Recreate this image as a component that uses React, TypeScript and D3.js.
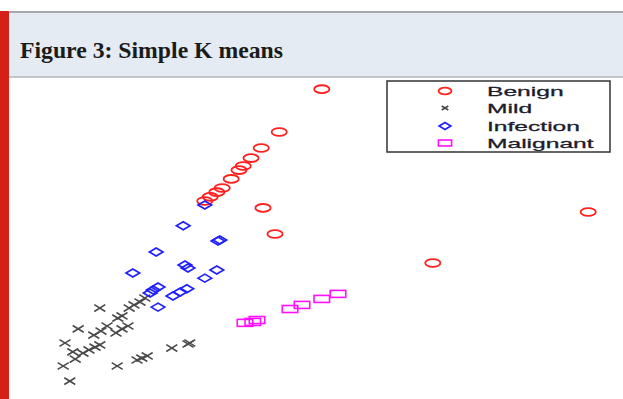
import React from "react";
import * as d3 from "d3";

// Cluster assignments from a simple k-means run (feature 1 vs feature 2)
const benign: [number, number][] = [
  [50.3, 97.1], [43.2, 83.5], [40.2, 78.4], [38.5, 75.2], [37.2, 72.7],
  [36.5, 71.4], [35.2, 68.6], [33.7, 65.7], [32.8, 64.4], [31.7, 62.9],
  [30.8, 61.6], [40.5, 59.4], [42.5, 51.1], [94.7, 58.1], [68.8, 41.9],
];

const mild: [number, number][] = [
  [13.3, 27.6], [20.8, 30.8], [20.0, 29.5], [19.0, 28.6], [18.2, 27.6],
  [17.0, 25.1], [16.3, 24.4], [9.7, 21.0], [14.5, 21.9], [13.5, 20.3],
  [12.3, 19.0], [18.0, 21.9], [17.0, 21.0], [16.0, 19.7], [7.5, 16.5],
  [13.3, 15.9], [12.5, 15.2], [11.5, 14.3], [10.5, 13.3], [8.8, 13.7],
  [9.2, 11.4], [7.2, 9.2], [16.2, 9.2], [19.5, 11.1], [20.3, 11.7],
  [21.2, 12.4], [25.3, 14.9], [28.3, 16.5], [28.0, 16.2], [8.3, 4.4],
];

const infection: [number, number][] = [
  [30.8, 60.3], [27.2, 53.7], [33.3, 49.2], [33.0, 48.9], [22.7, 45.4],
  [18.8, 38.7], [27.5, 41.3], [28.0, 40.3], [32.8, 39.7], [30.8, 37.1],
  [23.0, 34.3], [22.2, 33.3], [21.7, 32.4], [27.8, 33.7], [26.7, 32.7],
  [25.5, 31.4], [23.0, 27.9],
];

const malignant: [number, number][] = [
  [37.5, 22.9], [38.8, 23.2], [39.5, 23.8], [45.0, 27.3], [47.0, 28.6],
  [50.3, 30.5], [53.0, 32.1],
];

const legendLabels = ["Benign", "Mild", "Infection", "Malignant"];
const titleText = "Figure 3: Simple K means";

const W = 623;
const H = 399;

const x = d3.scaleLinear().domain([0, 100]).range([20, 620]);
const y = d3.scaleLinear().domain([0, 100]).range([395, 80]);

const RED = "#ff2020";
const BLUE = "#2020ff";
const GREY = "#4a4a4a";
const MAGENTA = "#ff10ff";

type Kind = "circle" | "cross" | "diamond" | "square";

function Marker({ kind, cx, cy, s = 1 }: { kind: Kind; cx: number; cy: number; s?: number }) {
  if (kind === "circle") {
    return <ellipse cx={cx} cy={cy} rx={7.6 * s} ry={3.9 * s} fill="none" stroke={RED} strokeWidth={1.8} />;
  }
  if (kind === "cross") {
    const hw = 5.5 * s, hh = 3.4 * s;
    return (
      <path
        d={`M${cx - hw},${cy - hh}L${cx + hw},${cy + hh}M${cx - hw},${cy + hh}L${cx + hw},${cy - hh}`}
        stroke={GREY}
        strokeWidth={1.6}
        fill="none"
      />
    );
  }
  if (kind === "diamond") {
    const hw = 6.8 * s, hh = 4 * s;
    return (
      <path
        d={`M${cx - hw},${cy}L${cx},${cy - hh}L${cx + hw},${cy}L${cx},${cy + hh}Z`}
        stroke={BLUE}
        strokeWidth={1.7}
        fill="none"
      />
    );
  }
  const w = 15.5 * s, h = 7 * s;
  return <rect x={cx - w / 2} y={cy - h / 2} width={w} height={h} fill="none" stroke={MAGENTA} strokeWidth={1.6} />;
}

const series: { kind: Kind; pts: [number, number][] }[] = [
  { kind: "circle", pts: benign },
  { kind: "cross", pts: mild },
  { kind: "diamond", pts: infection },
  { kind: "square", pts: malignant },
];

export default function App() {
  const legendRows: Kind[] = ["circle", "cross", "diamond", "square"];
  const rowY = [91, 108, 126, 143];
  return (
    <svg
      width={W}
      height={H}
      style={{ position: "absolute", left: 0, top: 0, background: "#ffffff" }}
    >
      {/* header band */}
      <rect x={0} y={12} width={W} height={65} fill="#e5ebf2" />
      <line x1={0} x2={W} y1={12} y2={12} stroke="#a4a8ad" strokeWidth={2} />
      <line x1={0} x2={W} y1={77} y2={77} stroke="#b4b8bc" strokeWidth={1.5} />
      <rect x={0} y={11} width={9} height={H - 11} fill="#d42016" />
      <text
        x={20}
        y={57.5}
        fontFamily="'Liberation Serif', 'Times New Roman', serif"
        fontWeight="bold"
        fontSize={23.5}
        textLength={263}
        lengthAdjust="spacingAndGlyphs"
        fill="#1b1b1b"
      >
        {titleText}
      </text>

      {/* points */}
      {series.map((sr) =>
        sr.pts.map((p, i) => (
          <Marker key={sr.kind + i} kind={sr.kind} cx={x(p[0])} cy={y(p[1])} />
        ))
      )}

      {/* legend */}
      <rect x={387} y={81} width={223} height={71} fill="#ffffff" stroke="#333333" strokeWidth={1.5} />
      {legendRows.map((k, i) => (
        <g key={k}>
          <Marker kind={k} cx={445} cy={rowY[i]} s={k === "cross" ? 0.6 : 0.85} />
          <text
            x={0}
            y={0}
            transform={`translate(487,${rowY[i] + 4.5}) scale(2.05,1)`}
            fontFamily="'Liberation Sans', Arial, sans-serif"
            fontSize={12}
            fill="#1c1c2c"
            stroke="#1c1c2c"
            strokeWidth={0.25}
          >
            {legendLabels[i]}
          </text>
        </g>
      ))}
    </svg>
  );
}
